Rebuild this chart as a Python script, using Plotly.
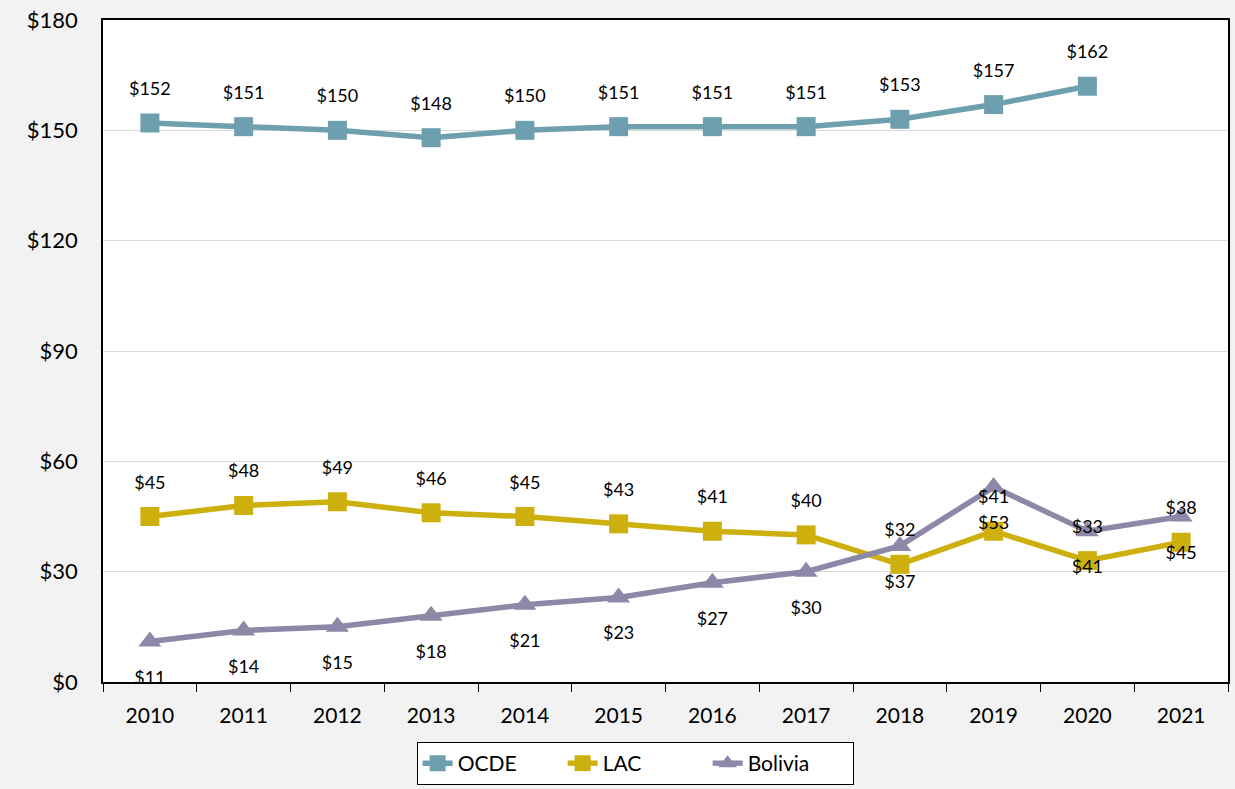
import plotly.graph_objects as go

years = ["2010", "2011", "2012", "2013", "2014", "2015", "2016", "2017", "2018", "2019", "2020", "2021"]
ocde = [152, 151, 150, 148, 150, 151, 151, 151, 153, 157, 162, None]
lac = [45, 48, 49, 46, 45, 43, 41, 40, 32, 41, 33, 38]
bolivia = [11, 14, 15, 18, 21, 23, 27, 30, 37, 53, 41, 45]
y_ticks = [0, 30, 60, 90, 120, 150, 180]

FONT = "Lato"
series = [
    ("OCDE", ocde, "#6E9FAF", "square", 19, "top center", 36),
    ("LAC", lac, "#CDB00E", "square", 19, "top center", 36),
    ("Bolivia", bolivia, "#8D88A7", "triangle-up", 20, "bottom center", 44),
]

fig = go.Figure()
for name, vals, color, sym, msize, tpos, pad in series:
    fig.add_trace(go.Scatter(
        x=years, y=vals, name=name, mode="lines+markers",
        line=dict(color=color, width=5.5),
        marker=dict(symbol=sym, size=msize, color=color),
    ))
for name, vals, color, sym, msize, tpos, pad in series:
    fig.add_trace(go.Scatter(
        x=years, y=vals, mode="markers+text", showlegend=False, hoverinfo="skip",
        marker=dict(size=pad, opacity=0),
        text=["" if v is None else f"${v}" for v in vals],
        textposition=tpos,
        textfont=dict(family=FONT, size=18, color="black"),
    ))

fig.update_layout(
    width=1235, height=789,
    paper_bgcolor="#F2F2F2", plot_bgcolor="white",
    margin=dict(l=103, r=7, t=20, b=107, autoexpand=False),
    font=dict(family=FONT, color="black"),
    showlegend=True,
    legend=dict(orientation="h", x=0.473, xanchor="center", y=-0.0906, yanchor="top",
                bgcolor="white", bordercolor="black", borderwidth=1,
                font=dict(family=FONT, size=21, color="black"),
                entrywidth=100, traceorder="normal"),
)
fig.update_xaxes(type="category", range=[-0.5, 11.5], showline=True, mirror=True,
                 linecolor="black", linewidth=1.5, ticks="outside", tickson="boundaries",
                 ticklen=8, tickcolor="black", showgrid=False, ticklabelstandoff=14,
                 automargin=False,
                 tickfont=dict(family=FONT, size=21, color="black"))
fig.update_yaxes(range=[0, 180], tickvals=y_ticks, ticktext=[f"${t}" for t in y_ticks],
                 showline=True, mirror=True, linecolor="black", linewidth=1.5,
                 showgrid=True, gridcolor="#DADADA", gridwidth=1, zeroline=False,
                 ticks="", ticklabelstandoff=19, ticklabeloverflow="allow",
                 automargin=False,
                 tickfont=dict(family=FONT, size=22, color="black"))

fig.write_html(
    "out.html",
    config={"displayModeBar": False},
    post_script="document.body.style.margin='0';document.documentElement.style.overflow='hidden';",
)
